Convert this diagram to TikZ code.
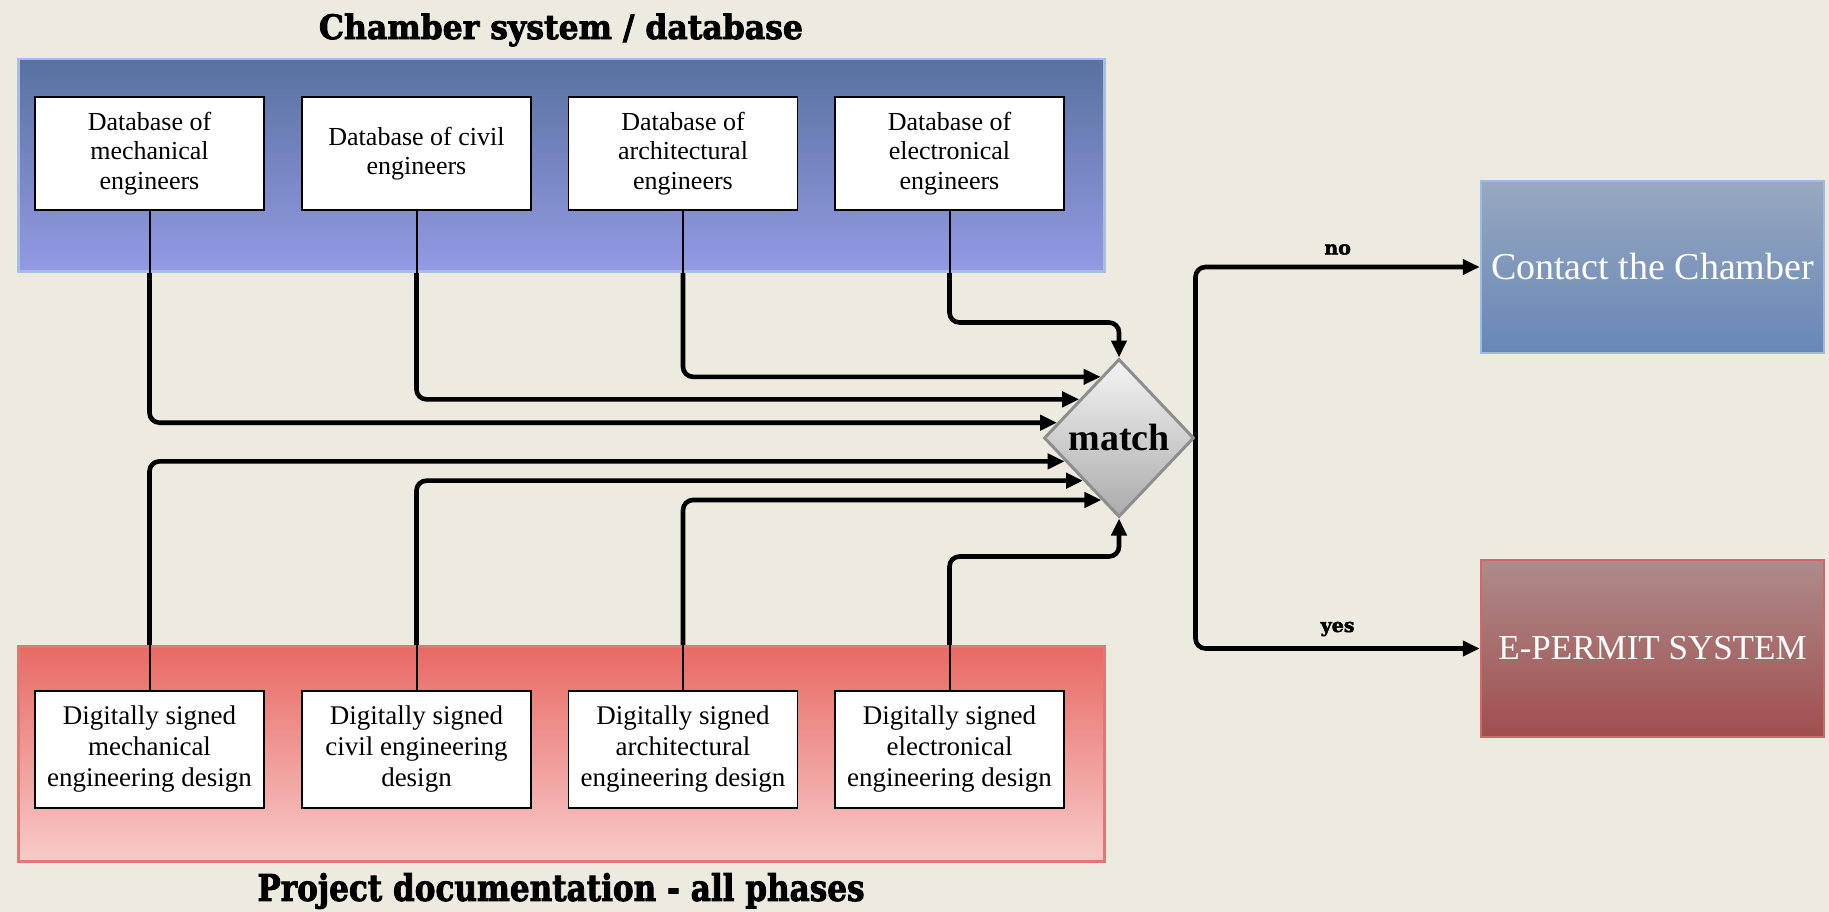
\documentclass[tikz,border=0pt]{standalone}
\usepackage{fontspec}
\setmainfont{Liberation Serif}
\newfontfamily\titlefont{DejaVu Serif}[UprightFont={* Bold},FakeBold=2.5]
\usetikzlibrary{shapes.geometric,arrows.meta,calc}
\definecolor{bgc}{HTML}{EDEAE0}
\definecolor{bluetop}{HTML}{5872A0}
\definecolor{bluebot}{HTML}{949AE4}
\definecolor{blueedge}{HTML}{A9BDDF}
\definecolor{redtop}{HTML}{E86964}
\definecolor{redbot}{HTML}{F7CBC9}
\definecolor{rededge}{HTML}{DC7A76}
\definecolor{ctop}{HTML}{98A8BF}
\definecolor{cbot}{HTML}{6787B7}
\definecolor{cedge}{HTML}{9CBBE4}
\definecolor{etop}{HTML}{AE8B8B}
\definecolor{ebot}{HTML}{A04E4E}
\definecolor{eedge}{HTML}{D06868}
\definecolor{dtop}{HTML}{F4F4F4}
\definecolor{dbot}{HTML}{ABABAB}
\definecolor{dedge}{HTML}{8E8E8E}
\pgfdeclarelayer{back}
\pgfdeclarelayer{conn}
\pgfdeclarelayer{bands}
\pgfsetlayers{back,conn,bands,main}
\begin{document}
\begin{tikzpicture}[x=1pt,y=-1pt,
  band/.style={rectangle,anchor=north west,line width=2.5pt,minimum width=1086pt,inner sep=0pt},
  topbox/.style={rectangle,draw=black,line width=1.5pt,fill=white,minimum width=229pt,minimum height=113pt,inner sep=0pt,align=center,font=\fontsize{26}{29.5}\selectfont},
  botbox/.style={rectangle,draw=black,line width=1.5pt,fill=white,minimum width=229pt,minimum height=117pt,inner sep=0pt,align=center,font=\fontsize{27}{31}\selectfont},
  outbox/.style={rectangle,line width=2.5pt,minimum width=343pt,inner sep=0pt,text=white},
  conn/.style={line width=4.6pt,rounded corners=10pt,-{Triangle[length=17pt,width=15pt]}},
  thinline/.style={line width=2pt},
  lab/.style={font=\titlefont\fontsize{19}{19}\selectfont,inner sep=0pt}
]
\begin{pgfonlayer}{back}
\fill[bgc] (0,0) rectangle (1829,912);
\end{pgfonlayer}
\useasboundingbox (0,0) rectangle (1829,912);

\begin{pgfonlayer}{bands}
\node[band,draw=blueedge,top color=bluetop,bottom color=bluebot,minimum height=212pt] (cb) at (17,58) {};
\node[band,draw=rededge,top color=redtop,bottom color=redbot,minimum height=215pt] (pb) at (17,645) {};
\end{pgfonlayer}

\node[inner sep=0pt] (ct) at (561,30) {\resizebox*{484pt}{33pt}{\titlefont Chamber system / database}};
\node[inner sep=0pt] (pt) at (561,891) {\resizebox*{607pt}{36pt}{\titlefont Project documentation - all phases}};

\node[topbox] (t1) at (149.5,153.5) {Database of\\mechanical\\engineers};
\node[topbox] (t2) at (416.5,153.5) {Database of civil\\engineers};
\node[topbox] (t3) at (683,153.5) {Database of\\architectural\\engineers};
\node[topbox] (t4) at (949.5,153.5) {Database of\\electronical\\engineers};

\node[botbox] (d1) at (149.5,749.5) {Digitally signed\\mechanical\\engineering design};
\node[botbox] (d2) at (416.5,749.5) {Digitally signed\\civil engineering\\design};
\node[botbox] (d3) at (683,749.5) {Digitally signed\\architectural\\engineering design};
\node[botbox] (d4) at (949.5,749.5) {Digitally signed\\electronical\\engineering design};

\node[diamond,draw=dedge,line width=3pt,top color=dtop,bottom color=dbot,minimum width=150pt,minimum height=158pt,inner sep=0pt,font=\bfseries\fontsize{38}{38}\selectfont] (m) at (1119,438) {match};

\node[outbox,draw=cedge,top color=ctop,bottom color=cbot,minimum height=172pt,font=\fontsize{38}{38}\selectfont] (contact) at (1652.5,267) {Contact the Chamber};
\node[outbox,draw=eedge,top color=etop,bottom color=ebot,minimum height=177pt,font=\fontsize{35}{35}\selectfont] (eperm) at (1652.5,648.5) {E-PERMIT SYSTEM};

\begin{pgfonlayer}{conn}
\draw[conn] (t1.south) |- ($(m.north)!0.81!(m.west)$);
\draw[conn] (t2.south) |- ($(m.north)!0.52!(m.west)$);
\draw[conn] (t3.south) |- ($(m.north)!0.24!(m.west)$);
\draw[conn] (t4.south) |- ($(m.north)+(0,-35)$) -- (m.north);
\draw[conn] (d1.north) |- ($(m.west)!0.29!(m.south)$);
\draw[conn] (d2.north) |- ($(m.west)!0.53!(m.south)$);
\draw[conn] (d3.north) |- ($(m.west)!0.77!(m.south)$);
\draw[conn] (d4.north) |- ($(m.south)+(0,38)$) -- (m.south);
\draw[conn] (m.east) |- (contact.west) node[lab,pos=0.75,above=10pt] {no};
\draw[conn] (m.east) |- (eperm.west) node[lab,pos=0.75,above=10pt] {yes};
\end{pgfonlayer}

\draw[thinline] (t1.south) -- (t1.south |- cb.south);
\draw[thinline] (t2.south) -- (t2.south |- cb.south);
\draw[thinline] (t3.south) -- (t3.south |- cb.south);
\draw[thinline] (t4.south) -- (t4.south |- cb.south);
\draw[thinline] (d1.north) -- (d1.north |- pb.north);
\draw[thinline] (d2.north) -- (d2.north |- pb.north);
\draw[thinline] (d3.north) -- (d3.north |- pb.north);
\draw[thinline] (d4.north) -- (d4.north |- pb.north);
\end{tikzpicture}
\end{document}
